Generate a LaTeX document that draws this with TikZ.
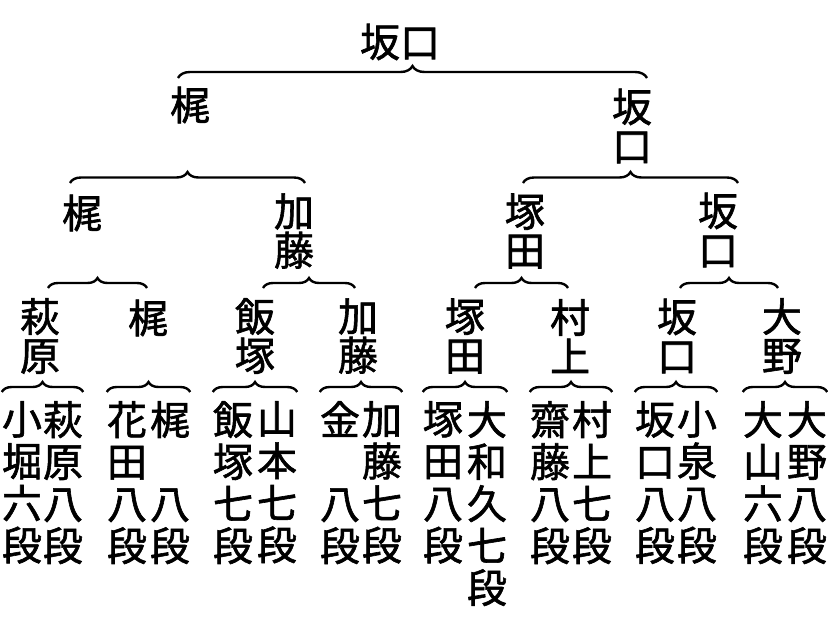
\documentclass[tikz,border=0pt]{standalone}
\usepackage{fontspec}
\newfontfamily\jpfont[FakeBold=1.5]{Noto Sans CJK JP}
\usetikzlibrary{decorations.pathreplacing, calc}
\tikzset{
  name-node/.style={
    font=\jpfont\fontsize{40}{39}\selectfont, inner sep=0pt, align=center
  },
  player-col/.style={
    font=\jpfont\fontsize{40}{42}\selectfont, inner sep=0pt, align=center,
    anchor=north
  },
  bracket-line/.style={
    decorate, decoration={brace, amplitude=#1}, line width=2.4pt
  },
  bracket-line/.default=11pt
}

\begin{document}
\begin{tikzpicture}[x=1pt, y=-1pt]
  \useasboundingbox[fill=white] (0,0) rectangle (828,625);

  % heights of the four bracket rows
  \coordinate (lv1) at (0,78);
  \coordinate (lv2) at (0,183);
  \coordinate (lv3) at (0,288);
  \coordinate (lv4) at (0,392);

  % winner and later rounds
  \node[name-node] (final) at (400,42)  {坂口};
  \node[name-node] (sf1)   at (190,105) {梶};
  \node[name-node] (sf2)   at (632,126) {坂\\口};
  \node[name-node] (qf1)   at (82,213)  {梶};
  \node[name-node] (qf2)   at (294,231) {加\\藤};
  \node[name-node] (qf3)   at (525,231) {塚\\田};
  \node[name-node] (qf4)   at (718,230) {坂\\口};
  \node[name-node] (r1)    at (40,336)  {萩\\原};
  \node[name-node] (r2)    at (148,318) {梶};
  \node[name-node] (r3)    at (255,336) {飯\\塚};
  \node[name-node] (r4)    at (358,336) {加\\藤};
  \node[name-node] (r5)    at (465,336) {塚\\田};
  \node[name-node] (r6)    at (570,336) {村\\上};
  \node[name-node] (r7)    at (677,336) {坂\\口};
  \node[name-node] (r8)    at (782,336) {大\\野};

  % first round pairings
  \node[player-col] (p1a) at (22,401)  {小\\堀\\六\\段};
  \node[player-col] (p1b) at (63,401)  {萩\\原\\八\\段};
  \node[player-col] (p2a) at (127,401) {花\\田\\八\\段};
  \node[player-col] (p2b) at (170,401) {梶\\\phantom{田}\\八\\段};
  \node[player-col] (p3a) at (233,401) {飯\\塚\\七\\段};
  \node[player-col] (p3b) at (277,401) {山\\本\\七\\段};
  \node[player-col] (p4a) at (340,401) {金\\\phantom{藤}\\八\\段};
  \node[player-col] (p4b) at (382,401) {加\\藤\\七\\段};
  \node[player-col] (p5a) at (443,401) {塚\\田\\八\\段};
  \node[player-col] (p5b) at (487,401) {大\\和\\久\\七\\段};
  \node[player-col] (p6a) at (550,401) {齋\\藤\\八\\段};
  \node[player-col] (p6b) at (592,401) {村\\上\\七\\段};
  \node[player-col] (p7a) at (655,401) {坂\\口\\八\\段};
  \node[player-col] (p7b) at (697,401) {小\\泉\\八\\段};
  \node[player-col] (p8a) at (763,401) {大\\山\\六\\段};
  \node[player-col] (p8b) at (807,401) {大\\野\\八\\段};

  % brackets, top down
  \draw[bracket-line=12pt] ($(sf1|-lv1)+(-12,0)$) -- ($(sf2|-lv1)+(15,0)$);
  \draw[bracket-line] ($(qf1|-lv2)+(-12,0)$) -- ($(qf2|-lv2)+(11,0)$);
  \draw[bracket-line] ($(qf3|-lv2)+(-2,0)$)  -- ($(qf4|-lv2)+(20,0)$);
  \draw[bracket-line=10pt] ($(r1|-lv3)+(8,0)$)  -- ($(r2|-lv3)+(-1,0)$);
  \draw[bracket-line=10pt] ($(r3|-lv3)+(8,0)$)  -- ($(r4|-lv3)+(-3,0)$);
  \draw[bracket-line=10pt] ($(r5|-lv3)+(10,0)$) -- ($(r6|-lv3)+(-2,0)$);
  \draw[bracket-line=10pt] ($(r7|-lv3)+(3,0)$)  -- ($(r8|-lv3)+(-4,0)$);
  \foreach \i in {1,...,8}
    \draw[bracket-line=10pt] (p\i a.north west |- lv4) -- (p\i b.north east |- lv4);
\end{tikzpicture}
\end{document}
